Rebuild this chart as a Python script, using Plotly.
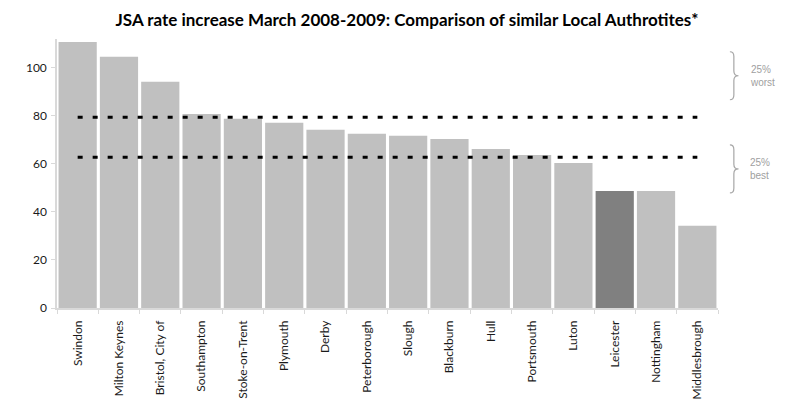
import plotly.graph_objects as go

categories = ["Swindon", "Milton Keynes", "Bristol, City of", "Southampton", "Stoke-on-Trent",
              "Plymouth", "Derby", "Peterborough", "Slough", "Blackburn", "Hull",
              "Portsmouth", "Luton", "Leicester", "Nottingham", "Middlesbrough"]
values = [110.8, 104.6, 94.2, 80.8, 78.75, 77.1, 74.2, 72.5, 71.7, 70.4, 66.25,
          63.75, 60.4, 48.75, 48.75, 34.2]
highlight = "Leicester"
upper_quartile = 79.4
lower_quartile = 62.8
y_ticks = [0, 20, 40, 60, 80, 100]

bar_colors = ["#808080" if c == highlight else "#c0c0c0" for c in categories]

fig = go.Figure()
fig.add_trace(go.Bar(x=categories, y=values, marker=dict(color=bar_colors, line=dict(width=0)),
                     showlegend=False))
for q in (upper_quartile, lower_quartile):
    fig.add_trace(go.Scatter(x=categories, y=[q] * len(categories), mode="lines",
                             line=dict(color="black", width=3, dash="5px,10px"),
                             showlegend=False, hoverinfo="skip"))

# page body has an 8px margin: compensate so plot lands where the reference has it
OFF = 8
W, H = 794, 404
plot_l, plot_r, plot_t, plot_b = 57, 718, 39.2, 308
ml = plot_l - OFF
mt = plot_t - OFF
mr = W - plot_r + OFF
mb = H - plot_b + OFF
ymax = 112

def brace(ytop, ybot):
    ymid = (ytop + ybot) / 2
    x0, x1, xp = 1.018, 1.024, 1.031
    d = 2.0
    return (f"M {x0},{ytop} Q {x1},{ytop} {x1},{ytop - d} L {x1},{ymid + d} "
            f"Q {x1},{ymid} {xp},{ymid} Q {x1},{ymid} {x1},{ymid - d} "
            f"L {x1},{ybot + d} Q {x1},{ybot} {x0},{ybot}")

shapes = []
annotations = []
for (ytop, ybot, label) in [(106.7, 86.7, "25%<br>worst"), (67.9, 47.9, "25%<br>best")]:
    shapes.append(dict(type="path", xref="paper", yref="y", path=brace(ytop, ybot),
                       line=dict(color="#a6a6a6", width=1.2)))
    annotations.append(dict(xref="paper", yref="y", x=1.045, y=(ytop + ybot) / 2,
                            text=label, showarrow=False, xanchor="left", yanchor="middle",
                            align="left",
                            font=dict(family="Liberation Sans, Arial", size=10, color="#a0a0a0")))

fig.update_layout(
    width=W, height=H,
    margin=dict(l=ml, r=mr, t=mt, b=mb, pad=0),
    paper_bgcolor="white", plot_bgcolor="white",
    bargap=0.075,
    title=dict(text="<b>JSA rate increase March 2008-2009: Comparison of similar Local Authrotites*</b>",
               x=(407 - OFF) / W, xanchor="center", y=1 - (20 - OFF) / H, yanchor="middle",
               yref="container",
               font=dict(family="Lato, sans-serif", size=17, color="black")),
    xaxis=dict(type="category", showgrid=False, showline=True, linecolor="#d9d9d9", linewidth=1.5,
               ticks="outside", tickson="boundaries", ticklen=4, tickcolor="#d9d9d9",
               tickangle=-90, ticklabelstandoff=6,
               tickfont=dict(family="Lato, sans-serif", size=12, color="#1a1a1a"),
               range=[-0.5, len(categories) - 0.5], automargin=False),
    yaxis=dict(range=[0, ymax], tickvals=y_ticks, showgrid=False, zeroline=False, showline=True,
               linecolor="#d9d9d9", linewidth=1.5, ticks="outside", ticklen=4, tickcolor="#d9d9d9",
               ticklabelstandoff=2,
               tickfont=dict(family="Lato, sans-serif", size=12, color="#1a1a1a"),
               automargin=False),
    shapes=shapes,
    annotations=annotations,
)

fig.write_html("out.html")
